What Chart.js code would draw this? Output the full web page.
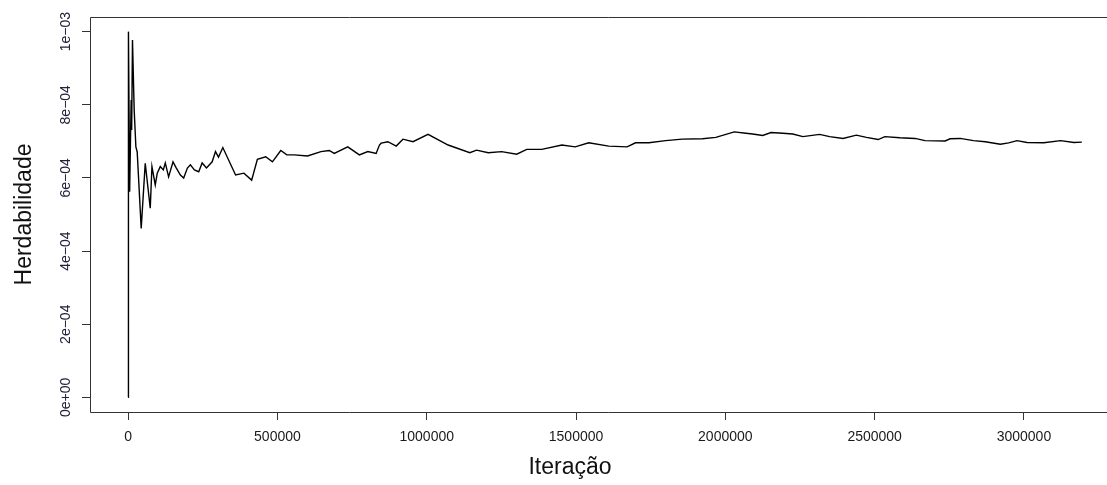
<!DOCTYPE html>
<html>
<head>
<meta charset="utf-8">
<title>Herdabilidade x Iteração</title>
<script src="https://cdn.jsdelivr.net/npm/chart.js@4/dist/chart.umd.min.js"></script>
<style>
  html, body { margin: 0; padding: 0; background: #fff; width: 1107px; height: 485px; overflow: hidden; }
  canvas { display: block; }
</style>
</head>
<body>
<canvas id="traco" width="1127" height="485"></canvas>
<script>
// iterações (eixo x) e herdabilidade em unidades de 1e-04
const iteracoes = [
  0, 1000, 5000, 10100, 11800, 14500, 20200, 25900, 30300, 43700,
  57200, 74000, 79700, 90800, 97500, 107600, 117700, 124400, 135500, 150300,
  161400, 174900, 185900, 198400, 208500, 221900, 236400, 247800, 262300, 281400,
  292500, 302600, 317100, 359800, 387700, 413600, 432800, 460700, 483200, 511100,
  531300, 555800, 600900, 645600, 673500, 690300, 735400, 774400, 802600, 830500,
  841600, 847400, 869900, 897800, 920300, 953900, 1004400, 1071600, 1144300, 1166800,
  1206100, 1250900, 1301300, 1334900, 1385400, 1452600, 1497300, 1542400, 1609600, 1671200,
  1699100, 1744100, 1800000, 1856100, 1923400, 1968100, 2029900, 2069000, 2091500, 2125100,
  2153000, 2192400, 2226000, 2259600, 2315800, 2349400, 2394100, 2438800, 2472500, 2511800,
  2534300, 2584800, 2635200, 2668800, 2736100, 2752900, 2786500, 2831300, 2870600, 2921000,
  2948900, 2976800, 3010500, 3066600, 3122700, 3167500, 3194000
];
const herdE4 = [
  0, 10.00, 5.62, 8.13, 7.31, 9.77, 7.86, 6.85, 6.71, 4.62,
  6.40, 5.17, 6.31, 5.81, 6.13, 6.31, 6.22, 6.41, 6.03, 6.44,
  6.27, 6.08, 6.00, 6.27, 6.36, 6.22, 6.17, 6.41, 6.27, 6.44,
  6.72, 6.57, 6.83, 6.08, 6.13, 5.94, 6.51, 6.58, 6.44, 6.75,
  6.63, 6.63, 6.60, 6.72, 6.75, 6.67, 6.85, 6.63, 6.72, 6.67,
  6.90, 6.95, 6.99, 6.87, 7.06, 6.99, 7.19, 6.90, 6.69, 6.76,
  6.69, 6.72, 6.65, 6.78, 6.78, 6.90, 6.85, 6.96, 6.87, 6.85,
  6.96, 6.96, 7.02, 7.06, 7.07, 7.11, 7.26, 7.22, 7.20, 7.16,
  7.24, 7.22, 7.20, 7.13, 7.19, 7.13, 7.08, 7.17, 7.11, 7.05,
  7.13, 7.10, 7.08, 7.02, 7.01, 7.07, 7.08, 7.02, 6.99, 6.92,
  6.96, 7.02, 6.97, 6.96, 7.02, 6.97, 6.98
];

const xTickValues = [0, 500000, 1000000, 1500000, 2000000, 2500000, 3000000];
const xTickLabels = ['0', '500000', '1000000', '1500000', '2000000', '2500000', '3000000'];
const yTickValues = [0, 0.0002, 0.0004, 0.0006, 0.0008, 0.001];
const yTickLabels = ['0e+00', '2e\u221204', '4e\u221204', '6e\u221204', '8e\u221204', '1e\u221203'];
const xTitle = 'Iteração';
const yTitle = 'Herdabilidade';

const FONT = '"Liberation Sans", Arial, Helvetica, sans-serif';

// caixa em volta da área do gráfico; o lado direito fica fora da figura
const caixa = {
  id: 'caixa',
  afterDraw(chart) {
    const {ctx, chartArea: a} = chart;
    const l = Math.round(a.left) + 0.5, t = Math.round(a.top) + 0.5, b = Math.round(a.bottom) + 0.5;
    ctx.save();
    ctx.strokeStyle = '#333';
    ctx.lineWidth = 1;
    ctx.beginPath();
    ctx.moveTo(chart.width, t);
    ctx.lineTo(l, t);
    ctx.lineTo(l, b);
    ctx.lineTo(chart.width, b);
    ctx.stroke();
    ctx.restore();
  }
};

// título do eixo x, deslocado para a esquerda como na figura original
const tituloX = {
  id: 'tituloX',
  afterDraw(chart) {
    const {ctx, chartArea: a} = chart;
    ctx.save();
    ctx.font = '23px ' + FONT;
    ctx.fillStyle = '#111';
    ctx.textAlign = 'center';
    ctx.textBaseline = 'middle';
    ctx.fillText(xTitle, a.left + 0.466 * (a.right - a.left), 468);
    ctx.restore();
  }
};

const pontos = iteracoes.map((it, i) => ({x: it, y: herdE4[i] * 1e-4}));

new Chart(document.getElementById('traco').getContext('2d'), {
  type: 'line',
  data: {
    datasets: [{
      data: pontos,
      borderColor: '#000',
      borderWidth: 1.4,
      pointRadius: 0,
      tension: 0,
      fill: false
    }]
  },
  options: {
    responsive: false,
    animation: false,
    layout: { padding: { top: 17, right: 7, bottom: 0, left: 0 } },
    plugins: { legend: { display: false }, tooltip: { enabled: false } },
    scales: {
      x: {
        type: 'linear',
        min: -127760,
        max: 3321760,
        afterBuildTicks: (s) => { s.ticks = xTickValues.map(v => ({value: v})); },
        afterFit: (s) => { s.height = 73; },
        border: { display: false },
        grid: { drawOnChartArea: false, drawTicks: true, tickLength: 8, tickColor: '#333', tickWidth: 1 },
        ticks: {
          autoSkip: false, maxRotation: 0, padding: 9,
          color: '#1a1a1a', font: { family: FONT, size: 14 },
          callback: (v, i) => xTickLabels[i]
        },
        title: { display: false }
      },
      y: {
        min: -0.00004,
        max: 0.00104,
        afterBuildTicks: (s) => { s.ticks = yTickValues.map(v => ({value: v})); },
        afterFit: (s) => { s.width = 90; },
        border: { display: false },
        grid: { drawOnChartArea: false, drawTicks: true, tickLength: 8, tickColor: '#333', tickWidth: 1 },
        ticks: {
          autoSkip: false, minRotation: 90, maxRotation: 90, crossAlign: 'center', padding: -4,
          color: '#22223a', font: { family: FONT, size: 14 },
          callback: (v, i) => yTickLabels[i]
        },
        title: {
          display: true, text: yTitle, color: '#111',
          font: { family: FONT, size: 23 }, padding: { top: 11, bottom: 0 }
        }
      }
    }
  },
  plugins: [caixa, tituloX]
});
</script>
</body>
</html>
